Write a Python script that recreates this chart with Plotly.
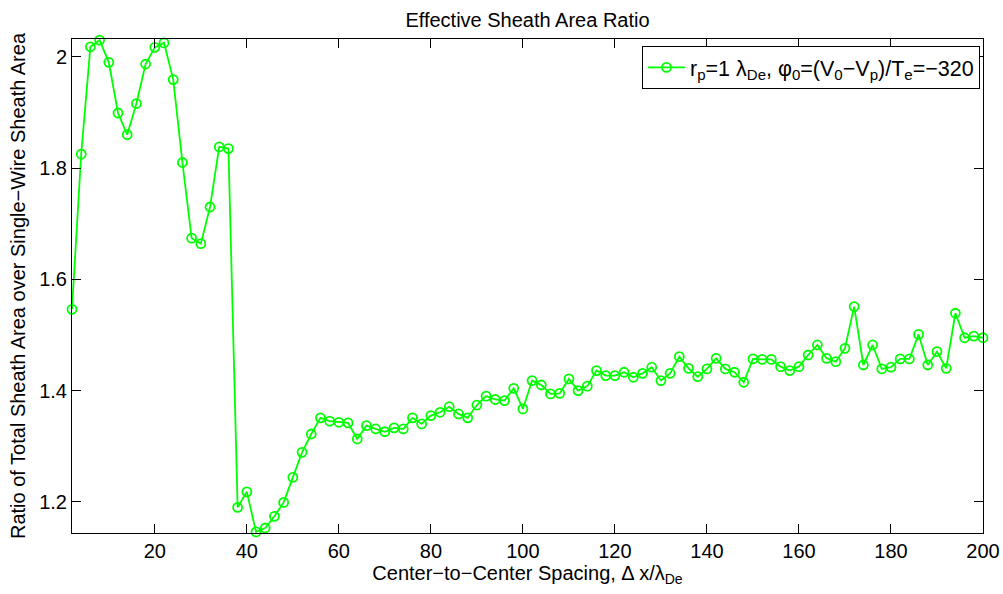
import plotly.graph_objects as go

spacing = list(range(2, 202, 2))
area_ratio = [
    1.546, 1.825, 2.018, 2.030, 1.990, 1.899, 1.860, 1.916, 1.987, 2.017,
    2.025, 1.959, 1.810, 1.674, 1.664, 1.730, 1.838, 1.835, 1.190, 1.218,
    1.146, 1.153, 1.174, 1.199, 1.244, 1.289, 1.322, 1.351, 1.345, 1.343,
    1.342, 1.313, 1.337, 1.331, 1.326, 1.333, 1.331, 1.351, 1.340, 1.355,
    1.361, 1.371, 1.358, 1.351, 1.374, 1.390, 1.384, 1.382, 1.404, 1.367,
    1.418, 1.410, 1.394, 1.395, 1.421, 1.400, 1.408, 1.436, 1.427, 1.427,
    1.433, 1.424, 1.431, 1.442, 1.418, 1.431, 1.461, 1.440, 1.425, 1.439,
    1.458, 1.439, 1.433, 1.415, 1.457, 1.456, 1.456, 1.443, 1.436, 1.443,
    1.464, 1.482, 1.458, 1.452, 1.476, 1.551, 1.446, 1.482, 1.439, 1.442,
    1.457, 1.457, 1.501, 1.446, 1.470, 1.440, 1.539, 1.495, 1.498, 1.495,
]
x_ticks = [20, 40, 60, 80, 100, 120, 140, 160, 180, 200]
y_ticks = [1.2, 1.4, 1.6, 1.8, 2.0]
y_tick_text = ["1.2", "1.4", "1.6", "1.8", "2"]

legend_name = "r<sub>p</sub>=1 λ<sub>De</sub>, φ<sub>0</sub>=(V<sub>0</sub>−V<sub>p</sub>)/T<sub>e</sub>=−320"

FONT = "Liberation Sans, Arial, Helvetica, sans-serif"

fig = go.Figure()
fig.add_trace(go.Scatter(
    x=spacing, y=area_ratio, mode="lines+markers", name=legend_name,
    line=dict(color="#00ff00", width=1.8),
    marker=dict(symbol="circle-open", size=9, color="#00ff00", line=dict(width=1.8, color="#00ff00")),
    cliponaxis=False,
    showlegend=True,
))

axis_common = dict(
    showline=True, linecolor="black", linewidth=1, mirror="ticks",
    ticks="inside", ticklen=9, tickcolor="black", tickwidth=1,
    showgrid=False, zeroline=False, automargin=False,
    tickfont=dict(family=FONT, size=20, color="black"),
)

fig.update_layout(
    width=1003, height=594,
    margin=dict(l=72, r=20, t=39, b=61),
    paper_bgcolor="white", plot_bgcolor="white",
    font=dict(family=FONT, color="black"),
    title=dict(text="Effective Sheath Area Ratio", x=(72 + 983) / 2 / 1003, xanchor="center",
               y=1 - 20 / 594, yanchor="middle", font=dict(family=FONT, size=20, color="black")),
    xaxis=dict(range=[2, 200], tickvals=x_ticks,
               title=dict(text="Center−to−Center Spacing, Δ x/λ<sub>De</sub>",
                          font=dict(family=FONT, size=20, color="black"), standoff=2),
               **axis_common),
    yaxis=dict(range=[1.144, 2.032], tickvals=y_ticks, ticktext=y_tick_text,
               title=dict(text="Ratio of Total Sheath Area over Single−Wire Sheath Area",
                          font=dict(family=FONT, size=20, color="black"), standoff=8),
               **axis_common),
    legend=dict(x=0.9967, y=0.986, xanchor="right", yanchor="top",
                bordercolor="black", borderwidth=1, bgcolor="white",
                itemwidth=37,
                font=dict(family=FONT, size=21.5, color="black")),
)

fig.write_html("out.html")
